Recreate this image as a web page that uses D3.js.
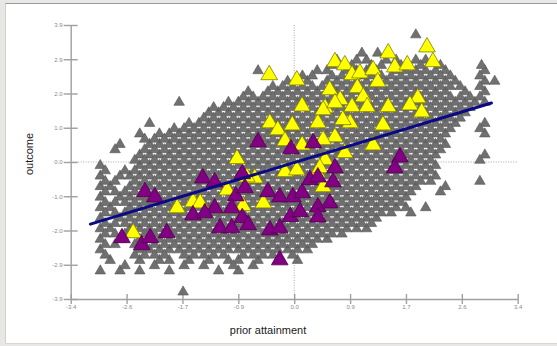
<!DOCTYPE html>
<html>
<head>
<meta charset="utf-8">
<script src="https://cdn.jsdelivr.net/npm/d3@7"></script>
<style>
  body { margin: 0; background: #e9e6e6; }
  svg { display: block; font-family: Arial, "Liberation Sans", sans-serif; }
</style>
</head>
<body>
<div id="chart"></div>
<script>
// axis ticks (evenly spaced, labels as printed on the chart)
const xTicks = [-3.4, -2.55, -1.7, -0.85, 0, 0.85, 1.7, 2.55, 3.4];
const xTickLabels = ["-3.4", "-2.6", "-1.7", "-0.9", "0.0", "0.9", "1.7", "2.6", "3.4"];
const yTicks = [-3.9, -2.925, -1.95, -0.975, 0, 0.975, 1.95, 2.925, 3.9];
const yTickLabels = ["-3.9", "-2.9", "-2.0", "-1.0", "0.0", "1.0", "2.0", "2.9", "3.9"];

// grey cloud, read off the picture on its (staggered) lattice: one string per outcome row,
// one character per prior attainment column ('#' = point)
const grayCols = d3.range(42).map(i => +(-3.1 + 0.15 * i).toFixed(3));
const grayRows = d3.range(21).map(j => +(2.9 - 0.3 * j).toFixed(3));
const grayMask = [
  ".........................#.##.##.##.......",
  ".................#.....##.####.######...#.",
  "....................###.##############..##",
  "................#.###################.#.#.",
  ".........#....###########################.",
  "............###########################...",
  "......#...############################..#.",
  ".....#.##############################...#.",
  "...#..###############################.....",
  ".....###############################....#.",
  ".#...###############################......",
  ".#.#################################......",
  ".##.##############################..#.....",
  ".#.##############################.........",
  ".##.#############################.#.......",
  ".#.###########################............",
  ".##.#########################.............",
  ".#.#.####################.................",
  ".#...##################...................",
  "..#..#.##.#.#.##.#.#.#....................",
  ".#.#.#..#....#.#.........................."
];
// second lattice, half a step right and half a step down
const grayCols2 = d3.range(42).map(i => +(-3.025 + 0.15 * i).toFixed(3));
const grayRows2 = d3.range(20).map(j => +(2.75 - 0.3 * j).toFixed(3));
const grayMask2 = [
  "........................#.#.##.#.#.#......",
  ".....................##.#############..#..",
  "..................####################.#..",
  "...............#########################..",
  "............###########################...",
  "...........###########################....",
  "........#############################..#..",
  ".....###############################......",
  "..#..###############################......",
  "....###############################....#..",
  ".#.################################.......",
  ".##.###############################....#..",
  ".################################..#......",
  ".###############################..........",
  ".##############################.#.........",
  ".############################.............",
  ".#########################................",
  ".##.###################...................",
  ".#..####.#####.####.#.....................",
  "...#..#..#.#..#.#........................."
];
const grayExtra = [[1.85, 3.62], [1.03, 3.10], [1.27, 3.10], [2.85, 2.75], [-1.69, -3.70]];

// highlighted pupils
const yellowPoints = [
  [-0.38, 2.48], [0.04, 2.33], [0.62, 2.85], [0.77, 2.76], [0.88, 2.48], [1.00, 2.53],
  [1.20, 2.62], [1.43, 3.10], [1.53, 2.70], [1.72, 2.76], [1.27, 2.28], [2.02, 3.27],
  [2.11, 2.85], [0.54, 2.05], [0.96, 2.11], [1.05, 1.85], [0.70, 1.77], [0.88, 1.57],
  [0.47, 1.54], [0.12, 1.59], [1.11, 1.57], [1.43, 1.57], [1.88, 1.82], [1.76, 1.62],
  [1.94, 1.42], [-0.03, 1.05], [-0.37, 1.11], [-0.25, 0.91], [0.36, 1.11], [0.85, 1.11],
  [0.74, 1.20], [1.35, 1.05], [-0.14, 0.60], [0.62, 0.71], [0.44, 0.63], [0.12, 0.48],
  [1.20, 0.48], [-0.87, 0.09], [0.77, 0.26], [-0.14, -0.28], [0.04, -0.23], [-0.60, -0.46],
  [-0.72, -0.43], [-1.02, -0.80], [-1.54, -1.14], [-1.43, -1.17], [-0.78, -1.25], [-0.47, -1.17],
  [0.35, -0.31], [-1.78, -1.31], [-2.45, -2.02], [0.44, 1.48], [0.62, 1.68], [0.47, 0.06],
  [0.39, -0.17], [0.44, -0.71]
];
const purplePoints = [
  [-2.27, -0.85], [-2.12, -1.00], [-1.39, -0.46], [-1.21, -0.57], [-0.79, -0.34], [-0.89, -0.97],
  [-0.75, -0.74], [-1.21, -1.31], [-1.54, -1.51], [-1.36, -1.45], [-0.95, -1.31], [-0.79, -1.59],
  [-0.70, -1.79], [-1.13, -1.88], [-0.95, -1.88], [-2.62, -2.16], [-2.32, -2.36], [-2.19, -2.16],
  [-1.94, -2.02], [-0.40, -0.85], [-0.22, -1.00], [-0.02, -1.00], [0.12, -0.88], [-0.06, -1.56],
  [0.09, -1.42], [-0.37, -1.94], [-0.22, -1.88], [-0.22, -2.79], [-0.55, 0.57], [-0.05, 0.37],
  [0.29, 0.54], [0.24, -0.51], [0.62, -0.17], [0.59, -0.57], [0.36, -0.43], [1.61, 0.14],
  [1.53, -0.17], [0.36, -1.28], [0.54, -1.17], [0.36, -1.57]
];

// fitted line
const lineX = [-3.1, 3.0];
const lineY = [-1.77, 1.68];

let width = 557, height = 346;

const svg = d3.select("#chart")
        .append("svg")
        .attr("width", width)
        .attr("height", height);

// window-like frame
svg.append("rect").attr("width", width).attr("height", height).attr("fill", "#e9e6e6");
svg.append("rect").attr("x", 6).attr("y", 4).attr("width", width - 6).attr("height", 339)
        .attr("fill", "#fff");
svg.append("line").attr("x1", 5).attr("x2", width).attr("y1", 3.5).attr("y2", 3.5)
        .attr("stroke", "#9a9a9a");
svg.append("line").attr("x1", 5.5).attr("x2", 5.5).attr("y1", 3.5).attr("y2", 343)
        .attr("stroke", "#cfcfcf");
svg.append("line").attr("x1", 5.5).attr("x2", width).attr("y1", 343.5).attr("y2", 343.5)
        .attr("stroke", "#d6d6d6");

const x = d3.scaleLinear().domain([-3.4, 3.4]).range([70.7, 517.7]);
const y = d3.scaleLinear().domain([-3.9, 3.9]).range([299, 25]);

// dotted zero lines
svg.append("line")
        .attr("x1", x(0)).attr("x2", x(0)).attr("y1", y(3.9)).attr("y2", y(-3.9))
        .attr("stroke", "#a8a8a8").attr("stroke-dasharray", "1,1.5");
svg.append("line")
        .attr("x1", x(-3.4)).attr("x2", x(3.4)).attr("y1", y(0)).attr("y2", y(0))
        .attr("stroke", "#a8a8a8").attr("stroke-dasharray", "1,1.5");

// axes
const xAxis = svg.append("g")
        .attr("transform", `translate(0,${y(-3.9)})`)
        .call(d3.axisBottom(x).tickValues(xTicks).tickFormat((d, i) => xTickLabels[i])
            .tickSize(5).tickSizeOuter(0));
xAxis.selectAll(".tick line").attr("y1", -5);
xAxis.selectAll(".tick text").attr("y", 6);

const yAxis = svg.append("g")
        .attr("transform", `translate(${x(-3.4)},0)`)
        .call(d3.axisLeft(y).tickValues(yTicks).tickFormat((d, i) => yTickLabels[i])
            .tickSize(7).tickSizeOuter(0));
yAxis.selectAll(".tick line").attr("x1", 7);
yAxis.selectAll(".tick text").attr("x", -8);

svg.selectAll(".domain, .tick line").attr("stroke", "#a0a0a0").attr("stroke-width", 1.4);
svg.selectAll(".tick text").attr("fill", "#8a8a8a").attr("font-size", 6);

// axis titles
svg.append("text")
        .attr("transform", "translate(33,154) rotate(-90)")
        .attr("text-anchor", "middle")
        .attr("font-size", 11)
        .attr("fill", "#1a1a1a")
        .text("outcome");
svg.append("text")
        .attr("x", 268).attr("y", 334)
        .attr("text-anchor", "middle")
        .attr("font-size", 11)
        .attr("fill", "#1a1a1a")
        .text("prior attainment");

// grey points from the two masks
const grayPoints = [];
function readMask(mask, cols, rows) {
    mask.forEach((row, j) => {
        row.split("").forEach((c, i) => {
            if (c === "#" && i < cols.length) grayPoints.push([cols[i], rows[j]]);
        });
    });
}
readMask(grayMask, grayCols, grayRows);
readMask(grayMask2, grayCols2, grayRows2);
grayExtra.forEach(p => grayPoints.push(p));

const small = d3.symbol().type(d3.symbolTriangle).size(48);
const big = d3.symbol().type(d3.symbolTriangle).size(120);

svg.append("g").selectAll("path")
        .data(grayPoints)
        .enter()
            .append("path")
            .attr("d", small)
            .attr("transform", d => `translate(${x(d[0])},${y(d[1])})`)
            .attr("fill", "#707070")
            .attr("stroke", "#565656")
            .attr("stroke-width", 0.6);

svg.append("g").selectAll("path")
        .data(yellowPoints)
        .enter()
            .append("path")
            .attr("d", big)
            .attr("transform", d => `translate(${x(d[0])},${y(d[1])})`)
            .attr("fill", "#ffff00")
            .attr("stroke", "#7d7d00")
            .attr("stroke-width", 0.8);

svg.append("g").selectAll("path")
        .data(purplePoints)
        .enter()
            .append("path")
            .attr("d", big)
            .attr("transform", d => `translate(${x(d[0])},${y(d[1])})`)
            .attr("fill", "#820082")
            .attr("stroke", "#4d004d")
            .attr("stroke-width", 0.8);

// regression line
svg.append("line")
        .attr("x1", x(lineX[0])).attr("y1", y(lineY[0]))
        .attr("x2", x(lineX[1])).attr("y2", y(lineY[1]))
        .attr("stroke", "#0a0a84")
        .attr("stroke-width", 3)
        .attr("stroke-linecap", "round");
</script>
</body>
</html>
